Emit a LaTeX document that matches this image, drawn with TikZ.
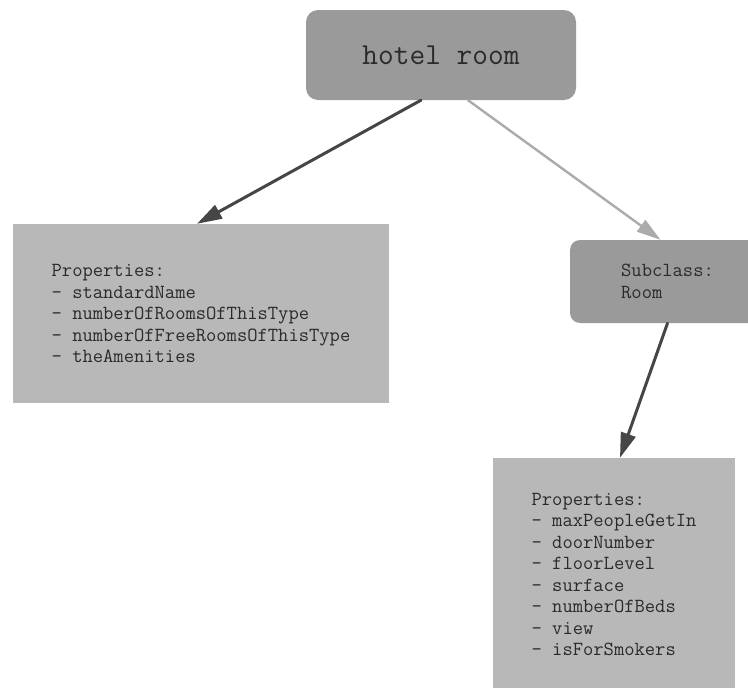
\documentclass[tikz,border=0pt]{standalone}
\usepackage{fontspec}
\usetikzlibrary{arrows.meta}
\definecolor{boxdark}{HTML}{9A9A9A}
\definecolor{boxlight}{HTML}{B8B8B8}
\definecolor{linkdark}{HTML}{464646}
\definecolor{linklight}{HTML}{ABABAB}
\definecolor{txtgray}{HTML}{2A2A2A}
\begin{document}
\begin{tikzpicture}[x=1pt,y=-1pt,line cap=round,line join=round,
    classbox/.style={fill=boxdark,rounded corners=12pt,inner sep=0pt,text=txtgray},
    propbox/.style={fill=boxlight,inner sep=0pt,align=left,text=txtgray,
      font=\ttfamily\fontsize{20}{21.5}\selectfont},
    linkmain/.style={draw=linkdark,line width=3pt,-{Triangle[length=25pt,width=15pt]}},
    linksub/.style={draw=linklight,line width=2.4pt,-{Triangle[length=24pt,width=14pt]}}]
  \useasboundingbox (0,0) rectangle (748,688);
  % class boxes
  \node[classbox,minimum width=270pt,minimum height=90pt,
    font=\ttfamily\fontsize{30.5}{32}\selectfont] (room) at (441,55) {hotel room};
  \node[classbox,rounded corners=10pt,minimum width=195pt,minimum height=83pt,align=left,
    font=\ttfamily\fontsize{20}{21.5}\selectfont] (sub) at (667.5,281.5) {Subclass:\\Room};
  % property boxes
  \node[propbox,minimum width=376pt,minimum height=179pt] (roomprops) at (201,313.5)
    {Properties:\\- standardName\\- numberOfRoomsOfThisType\\- numberOfFreeRoomsOfThisType\\- theAmenities};
  \node[propbox,minimum width=242pt,minimum height=233pt] (subprops) at (614,574.5)
    {Properties:\\- maxPeopleGetIn\\- doorNumber\\- floorLevel\\- surface\\- numberOfBeds\\- view\\- isForSmokers};
  % links
  \draw[linkmain] ([xshift=-20pt]room.south) -- ([xshift=-4pt]roomprops.north);
  \draw[linksub] ([xshift=27pt]room.south) -- ([xshift=-7pt]sub.north);
  \draw[linkmain] (sub.south) -- ([xshift=6pt]subprops.north);
\end{tikzpicture}
\end{document}
